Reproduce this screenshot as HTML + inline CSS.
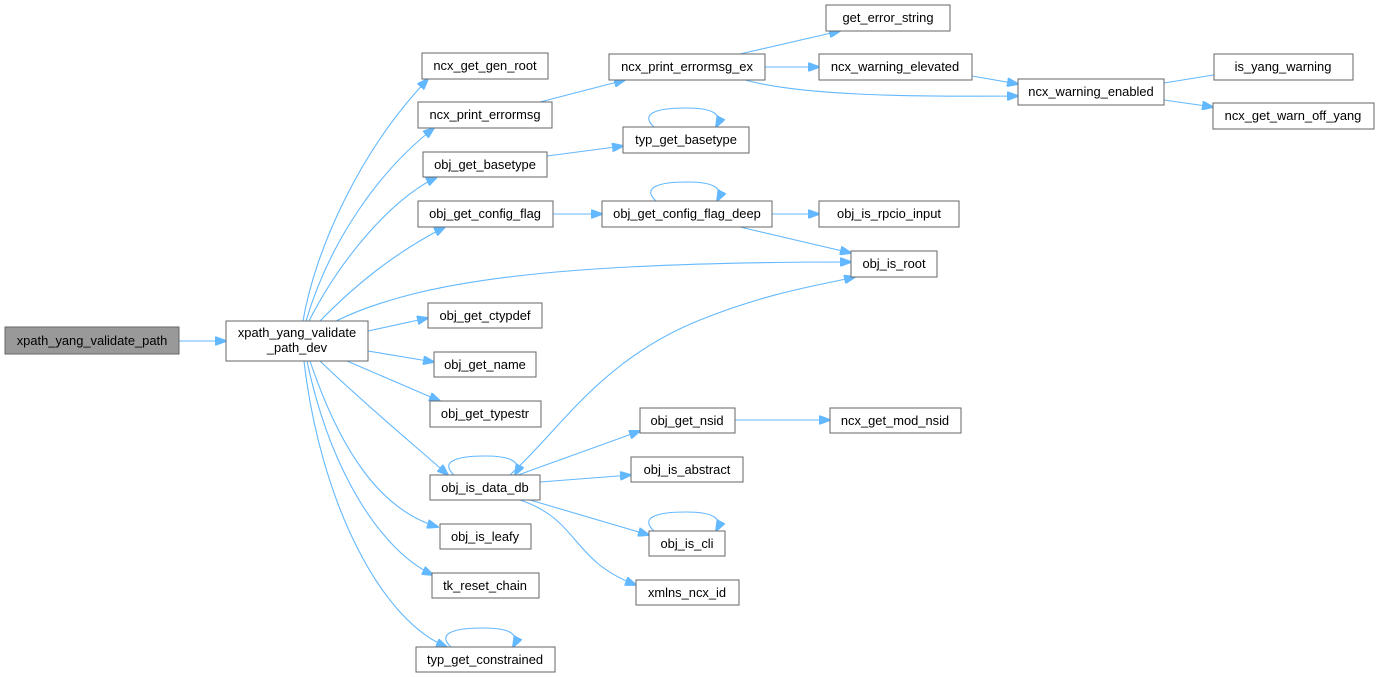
<!DOCTYPE html>
<html><head><meta charset="utf-8"><style>
html,body{margin:0;padding:0;background:#fff;}
svg{display:block;}
text{font-family:"Liberation Sans",Arial,sans-serif;font-size:12.9px;fill:#000;}
rect{fill:#fff;stroke:#666;stroke-width:1;}
path{fill:none;stroke:#63b8ff;stroke-width:1.1;}
</style></head><body>
<svg width="1379" height="677" viewBox="0 0 1379 677" xmlns="http://www.w3.org/2000/svg">
<defs><marker id="a" markerWidth="12" markerHeight="9" refX="11" refY="4.5" orient="auto" markerUnits="userSpaceOnUse"><path d="M0,0 L12,4.5 L0,9 z" style="fill:#63b8ff;stroke:#63b8ff"/></marker></defs>
<g marker-end="url(#a)">
<path d="M179,341 L226,341"/>
<path d="M303,321 C315,250 360,150 428,79"/>
<path d="M306,321 C330,240 380,170 434,128"/>
<path d="M309,321 C340,260 390,200 437,177"/>
<path d="M320,321 C360,280 400,250 445,227"/>
<path d="M336,321 C420,280 560,262 851,262"/>
<path d="M368,331 L428,318"/>
<path d="M368,351 L434,362"/>
<path d="M347,361 L440,401"/>
<path d="M320,361 C360,400 420,450 448,475"/>
<path d="M310,361 C340,450 380,510 438,527"/>
<path d="M307,361 C330,470 380,550 433,575"/>
<path d="M304,361 C320,500 380,620 447,647"/>
<path d="M454,475 C440,462 455,456 485,456 C512,456 522,462 515,475"/>
<path d="M654,127 C640,114 655,108 686,108 C713,108 723,114 716,127"/>
<path d="M656,201 C642,188 657,182 687,182 C714,182 724,188 717,201"/>
<path d="M654,531 C640,518 655,512 686,512 C713,512 723,518 716,531"/>
<path d="M451,647 C437,634 452,628 483,628 C510,628 520,634 513,647"/>
<path d="M540,102 L625,80"/>
<path d="M547,156 L623,146"/>
<path d="M553,214 L602,214"/>
<path d="M740,54 L840,31"/>
<path d="M765,67 L819,67"/>
<path d="M745,80 C800,95 900,97 1018,96"/>
<path d="M972,76 L1018,84"/>
<path d="M1164,83 L1226,73"/>
<path d="M1164,100 L1213,107"/>
<path d="M772,214 L819,214"/>
<path d="M740,227 L851,253"/>
<path d="M510,475 C560,430 600,360 700,320 C770,292 820,285 855,277"/>
<path d="M518,475 L640,431"/>
<path d="M540,482 L631,475"/>
<path d="M530,500 L649,535"/>
<path d="M520,500 C580,520 570,560 636,585"/>
<path d="M735,420 L830,420"/>
</g>
<rect x="5" y="327" width="174" height="27" style="fill:#999"/><text x="92" y="345" text-anchor="middle">xpath_yang_validate_path</text>
<rect x="226" y="321" width="142" height="40"/><text x="297" y="337" text-anchor="middle">xpath_yang_validate</text><text x="297" y="352" text-anchor="middle">_path_dev</text>
<rect x="422" y="53" width="126" height="26"/><text x="485" y="70" text-anchor="middle">ncx_get_gen_root</text>
<rect x="418" y="102" width="134" height="26"/><text x="485" y="119" text-anchor="middle">ncx_print_errormsg</text>
<rect x="423" y="152" width="124" height="25"/><text x="485" y="169" text-anchor="middle">obj_get_basetype</text>
<rect x="418" y="201" width="135" height="26"/><text x="485" y="218" text-anchor="middle">obj_get_config_flag</text>
<rect x="428" y="303" width="114" height="25"/><text x="485" y="320" text-anchor="middle">obj_get_ctypdef</text>
<rect x="434" y="352" width="102" height="25"/><text x="485" y="369" text-anchor="middle">obj_get_name</text>
<rect x="430" y="401" width="111" height="26"/><text x="485" y="418" text-anchor="middle">obj_get_typestr</text>
<rect x="430" y="475" width="110" height="25"/><text x="485" y="492" text-anchor="middle">obj_is_data_db</text>
<rect x="440" y="524" width="91" height="25"/><text x="485" y="541" text-anchor="middle">obj_is_leafy</text>
<rect x="432" y="573" width="107" height="25"/><text x="485" y="590" text-anchor="middle">tk_reset_chain</text>
<rect x="416" y="647" width="139" height="25"/><text x="485" y="664" text-anchor="middle">typ_get_constrained</text>
<rect x="640" y="408" width="95" height="25"/><text x="687" y="425" text-anchor="middle">obj_get_nsid</text>
<rect x="830" y="408" width="131" height="25"/><text x="895" y="425" text-anchor="middle">ncx_get_mod_nsid</text>
<rect x="631" y="457" width="112" height="25"/><text x="687" y="474" text-anchor="middle">obj_is_abstract</text>
<rect x="649" y="531" width="76" height="25"/><text x="687" y="548" text-anchor="middle">obj_is_cli</text>
<rect x="636" y="580" width="103" height="25"/><text x="687" y="597" text-anchor="middle">xmlns_ncx_id</text>
<rect x="826" y="5" width="124" height="26"/><text x="888" y="22" text-anchor="middle">get_error_string</text>
<rect x="609" y="54" width="156" height="26"/><text x="687" y="71" text-anchor="middle">ncx_print_errormsg_ex</text>
<rect x="819" y="54" width="153" height="26"/><text x="895" y="71" text-anchor="middle">ncx_warning_elevated</text>
<rect x="1018" y="79" width="146" height="26"/><text x="1091" y="96" text-anchor="middle">ncx_warning_enabled</text>
<rect x="1214" y="54" width="139" height="26"/><text x="1283" y="71" text-anchor="middle">is_yang_warning</text>
<rect x="1213" y="103" width="161" height="26"/><text x="1293" y="120" text-anchor="middle">ncx_get_warn_off_yang</text>
<rect x="623" y="127" width="126" height="26"/><text x="686" y="144" text-anchor="middle">typ_get_basetype</text>
<rect x="602" y="201" width="170" height="26"/><text x="687" y="218" text-anchor="middle">obj_get_config_flag_deep</text>
<rect x="819" y="201" width="140" height="26"/><text x="889" y="218" text-anchor="middle">obj_is_rpcio_input</text>
<rect x="851" y="251" width="86" height="26"/><text x="894" y="268" text-anchor="middle">obj_is_root</text>
</svg>
</body></html>
